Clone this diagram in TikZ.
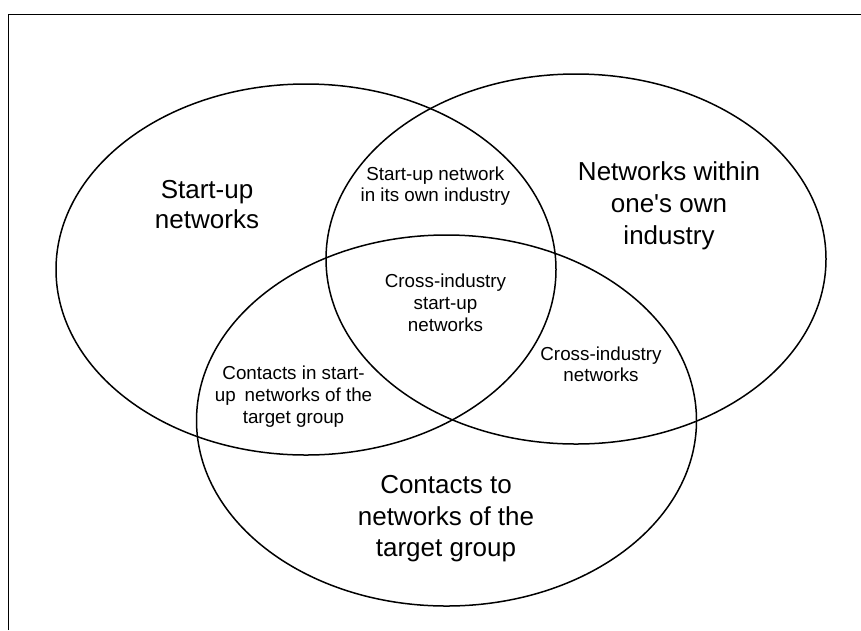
\documentclass[tikz,border=0pt]{standalone}
\usepackage{fontspec}
\setmainfont{Liberation Sans}
\newcommand{\mlines}[1]{\begin{tabular}[t]{@{}c@{}}#1\end{tabular}}
\begin{document}
\begin{tikzpicture}[x=1pt,y=-1pt,
  ring/.style={draw=black,line width=1.5pt},
  framestyle/.style={draw=black,line width=1.5pt},
  bigtxt/.style={inner sep=0pt,anchor=base,font=\fontsize{26}{#1}\selectfont},
  smalltxt/.style={inner sep=0pt,anchor=base,font=\fontsize{18.8}{#1}\selectfont}]
\useasboundingbox (0,0) rectangle (861,630);
% frame (left and top edges only)
\coordinate (fbl) at (8.3,630);
\coordinate (ftl) at (8.3,14.5);
\coordinate (ftr) at (861,14.5);
\draw[framestyle] (fbl) -- (ftl) -- (ftr);
% three sets
\coordinate (cA) at (306,269.5);
\coordinate (cB) at (576,259);
\coordinate (cC) at (446.5,420.5);
\draw[ring] (cA) ellipse [x radius=250pt, y radius=185.5pt];
\draw[ring] (cB) ellipse [x radius=250pt, y radius=185pt];
\draw[ring] (cC) ellipse [x radius=250pt, y radius=185.5pt];
% labels
\node[bigtxt=30] (sn) at (207,198.3) {\mlines{Start-up\\networks}};
\node[bigtxt=32] (ni) at (669,180.7) {\mlines{Networks within\\one\textquotesingle s own\\industry}};
\node[bigtxt=31.7] (ct) at (446,493.3) {\mlines{Contacts to\\networks of the\\target group}};
\node[smalltxt=21.7] (sni) at (435.3,180) {\mlines{Start-up network\\in its own industry}};
\node[smalltxt=21.9] (cis) at (445.5,287.3) {\mlines{Cross-industry\\start-up\\networks}};
\node[smalltxt=21] (cin) at (601,360) {\mlines{Cross-industry\\networks}};
\node[smalltxt=22.1] (cst) at (293.5,379) {\mlines{Contacts in start-\\up\hspace{0.2em} networks of the\\target group}};
\end{tikzpicture}
\end{document}
